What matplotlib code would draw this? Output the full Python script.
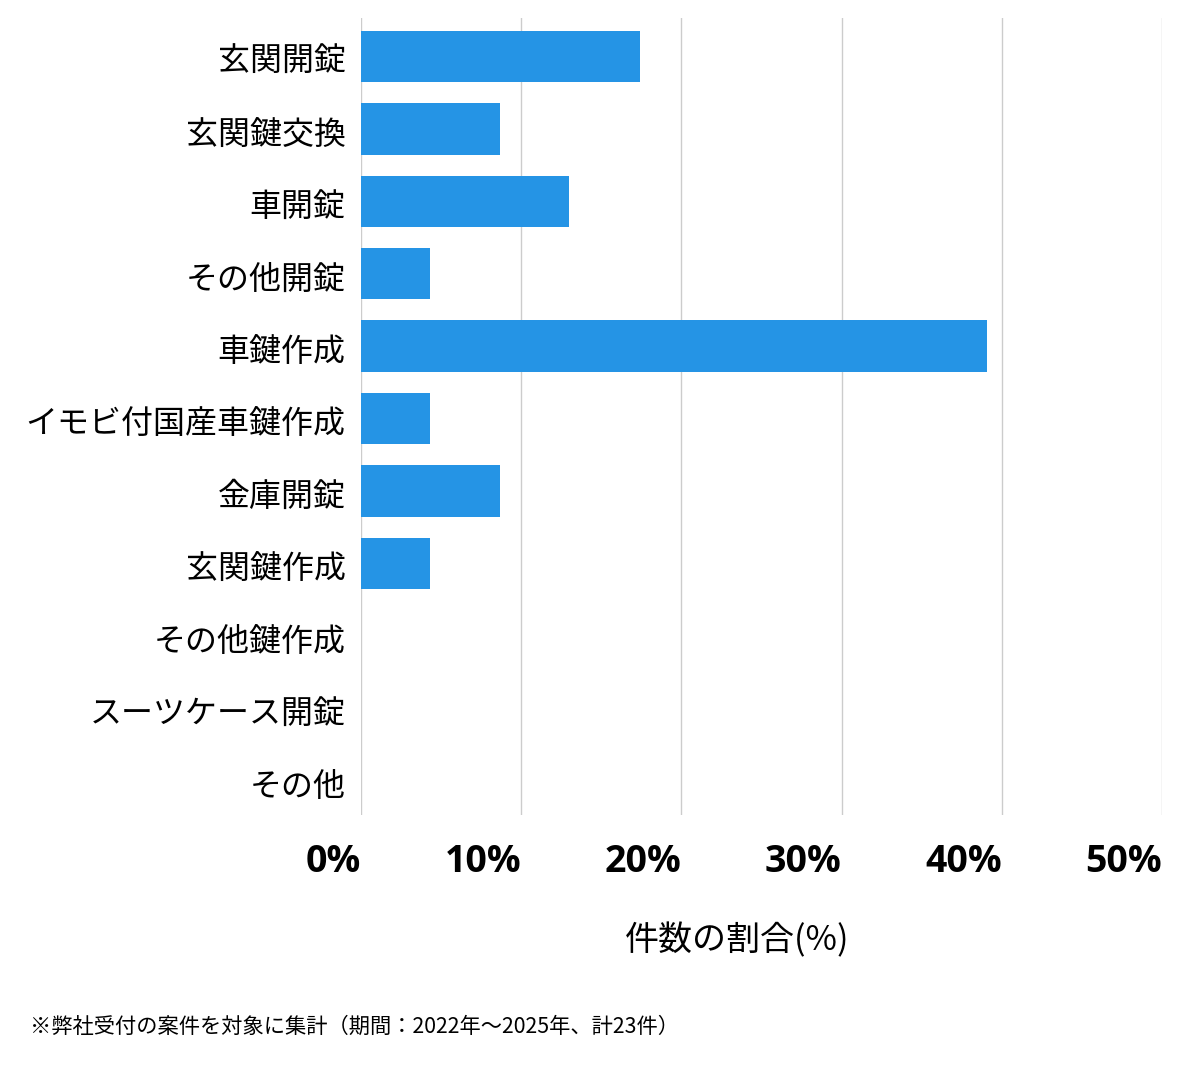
import matplotlib
matplotlib.use('Agg')
import matplotlib.pyplot as plt
import numpy as np

plt.rcParams['font.family'] = ['Noto Sans CJK JP', 'DejaVu Sans']

# ── DATA ──────────────────────────────────────────────────────────────────
categories = ['玄関開錠', '玄関鍵交換', '車開錠', 'その他開錠', '車鍵作成',
              'イモビ付国産車鍵作成', '金庫開錠', '玄関鍵作成', 'その他鍵作成',
              'スーツケース開錠', 'その他']
shares = [17.4, 8.7, 13.0, 4.3, 39.1, 4.3, 8.7, 4.3, 0, 0, 0]   # percent of 23 cases
xticks = [0, 10, 20, 30, 40, 50]
xtick_labels = ['0%', '10%', '20%', '30%', '40%', '50%']

bar_color = '#2594E5'

# ── PLOT ──────────────────────────────────────────────────────────────────
fig = plt.figure(figsize=(12, 10.69), dpi=100, facecolor='w')
ax = fig.add_axes([0.3008, 0.2376, 0.6675, 0.7456])

y = np.arange(len(categories))
ax.barh(y + 0.03, shares, height=0.71, color=bar_color, zorder=3)

ax.set_ylim(len(categories) - 0.5, -0.5)
ax.set_xlim(0, 50)
ax.set_yticks(y + 0.06)
ax.set_yticklabels(categories, fontsize=23)
ax.set_xticks(xticks)
ax.set_xticklabels(xtick_labels, ha='right')
for lab in ax.get_xticklabels():
    lab.set_fontfamily(['Open Sans', 'DejaVu Sans'])
    lab.set_fontweight('bold')
    lab.set_fontsize(27)
ax.tick_params(axis='both', length=0)
ax.tick_params(axis='y', pad=11)
ax.tick_params(axis='x', pad=20)

ax.grid(True, axis='x', color='#cccccc', linewidth=1, zorder=0)
for sp in ax.spines.values():
    sp.set_visible(False)

ax.set_xlabel('件数の割合(%)', fontsize=24.5)
ax.xaxis.set_label_coords(0.47, -0.135)

fig.text(0.025, 0.039, '※弊社受付の案件を対象に集計（期間：2022年〜2025年、計23件）',
         fontsize=15.3, ha='left', va='center')

fig.savefig('out.png', dpi=100, facecolor='w')
